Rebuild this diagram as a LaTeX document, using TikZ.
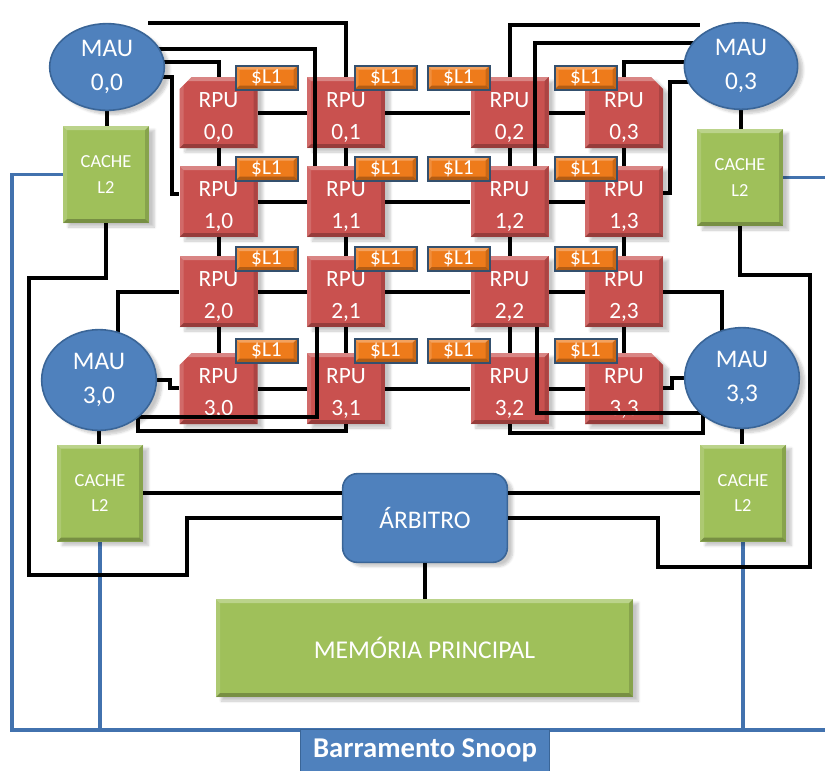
\documentclass[tikz,border=0pt]{standalone}
\usepackage{fontspec}
\setmainfont{Carlito}
\usetikzlibrary{shapes.geometric,shapes.misc,calc,shadows.blur}

\definecolor{rpured}{HTML}{C9514F}
\definecolor{maublue}{HTML}{4F81BD}
\definecolor{mauedge}{HTML}{3A6597}
\definecolor{cachegreen}{HTML}{9FC05A}
\definecolor{l1orange}{HTML}{EE7B1B}
\definecolor{l1edge}{HTML}{34506E}
\definecolor{busblue}{HTML}{4272AE}

\pgfdeclarelayer{back}
\pgfdeclarelayer{wires}
\pgfdeclarelayer{top}
\pgfsetlayers{back,main,wires,top}

\tikzset{
  x=0.75pt, y=-0.75pt,
  bevel/.style={path picture={
    \coordinate (bsw) at (path picture bounding box.south west);
    \coordinate (bne) at (path picture bounding box.north east);
    \coordinate (bnw) at (path picture bounding box.north west);
    \coordinate (bse) at (path picture bounding box.south east);
    \fill[white,opacity=.30] (bnw) -- (bne) -- ($(bne)+(-3pt,-3pt)$) -- ($(bnw)+(3pt,-3pt)$) -- cycle;
    \fill[white,opacity=.15] (bnw) -- ($(bnw)+(3pt,-3pt)$) -- ($(bsw)+(3pt,3pt)$) -- (bsw) -- cycle;
    \fill[black,opacity=.25] (bsw) -- ($(bsw)+(3pt,3pt)$) -- ($(bse)+(-3pt,3pt)$) -- (bse) -- cycle;
    \fill[black,opacity=.15] (bse) -- ($(bse)+(-3pt,3pt)$) -- ($(bne)+(-3pt,-3pt)$) -- (bne) -- cycle;
  }},
  soft/.style={blur shadow={shadow xshift=4pt, shadow yshift=-3pt, shadow opacity=22, shadow blur steps=6}},
  rpu/.style={rectangle, fill=rpured, minimum width=58.5pt, minimum height=53.25pt,
    inner sep=0pt, text=white, align=center, font=\fontsize{17.5}{24}\selectfont,
    text height=40pt, text depth=0pt, soft, bevel},
  cutnw/.style={chamfered rectangle, chamfered rectangle corners=north west,
    chamfered rectangle xsep=4.5pt, chamfered rectangle ysep=4.5pt},
  cutne/.style={chamfered rectangle, chamfered rectangle corners=north east,
    chamfered rectangle xsep=4.5pt, chamfered rectangle ysep=4.5pt},
  lone/.style={rectangle, fill=l1orange, draw=l1edge, line width=1.5pt, minimum width=46.5pt,
    minimum height=18pt, inner sep=0pt, text=white, font=\fontsize{16}{16}\selectfont, bevel},
  mau/.style={ellipse, fill=maublue, draw=mauedge, line width=1.2pt, inner sep=0pt,
    text=white, align=center, font=\fontsize{19}{25}\selectfont, soft},
  cache/.style={rectangle, fill=cachegreen, minimum width=64.5pt, minimum height=72.75pt,
    inner sep=0pt, text=white, align=center, font=\fontsize{13.8}{19}\selectfont, soft, bevel},
  arbiter/.style={rectangle, rounded corners=11pt, fill=maublue, draw=mauedge, line width=1.2pt,
    minimum width=123.5pt, minimum height=66.5pt, text=white, font=\fontsize{19}{20}\selectfont, soft},
  memory/.style={rectangle, fill=cachegreen, minimum width=312.75pt, minimum height=73.5pt,
    text=white, font=\fontsize{19.2}{20}\selectfont, soft, bevel},
  buslabel/.style={rectangle, fill=maublue, draw=mauedge, line width=1pt, minimum width=186.5pt,
    minimum height=31.5pt, inner sep=0pt, text=white, font=\fontsize{21.5}{22}\selectfont\bfseries},
  wire/.style={draw=black, line width=3pt},
  bus/.style={draw=busblue, line width=2.4pt},
}

\begin{document}
\begin{tikzpicture}
\useasboundingbox (0,0) rectangle (825,771);

% processing units, row by row
\node[rpu,cutnw] (r00) at (218.5,112.5) {RPU\\0,0};
\node[rpu] (r01) at (346,112.5) {RPU\\0,1};
\node[rpu] (r02) at (509.5,112.5) {RPU\\0,2};
\node[rpu,cutne] (r03) at (624,112.5) {RPU\\0,3};
\node[rpu] (r10) at (218.5,201.5) {RPU\\1,0};
\node[rpu] (r11) at (346,201.5) {RPU\\1,1};
\node[rpu] (r12) at (509.5,201.5) {RPU\\1,2};
\node[rpu] (r13) at (624,201.5) {RPU\\1,3};
\node[rpu] (r20) at (218.5,291.5) {RPU\\2,0};
\node[rpu] (r21) at (346,291.5) {RPU\\2,1};
\node[rpu] (r22) at (509.5,291.5) {RPU\\2,2};
\node[rpu] (r23) at (624,291.5) {RPU\\2,3};
\node[rpu,cutnw] (r30) at (218.5,388.5) {RPU\\3,0};
\node[rpu] (r31) at (346,388.5) {RPU\\3,1};
\node[rpu] (r32) at (509.5,388.5) {RPU\\3,2};
\node[rpu,cutne] (r33) at (624,388.5) {RPU\\3,3};

% L2 caches, arbiter and main memory
\node[cache] (c00) at (106,174.5) {CACHE\\L2};
\node[cache] (c03) at (740,177.5) {CACHE\\L2};
\node[cache] (c30) at (100,493) {CACHE\\L2};
\node[cache] (c33) at (743,493) {CACHE\\L2};
\node[arbiter] (arb) at (425,518) {ÁRBITRO};
\node[memory] (mem) at (424.5,648) {MEMÓRIA PRINCIPAL};

\begin{pgfonlayer}{top}
  \node[mau, minimum width=86pt, minimum height=65pt] (m00) at (107,67) {MAU\\0,0};
  \node[mau, minimum width=85pt, minimum height=65pt] (m03) at (741,66) {MAU\\0,3};
  \node[mau, minimum width=86pt, minimum height=75.5pt] (m30) at (99,380) {MAU\\3,0};
  \node[mau, minimum width=86pt, minimum height=75.5pt] (m33) at (742,378) {MAU\\3,3};
  % L1 caches on each unit
  \foreach \r/\y in {0/77.5,1/168.5,2/259,3/350.5}{
    \node[lone] (l\r0) at (266.5,\y) {\$L1};
    \node[lone] (l\r1) at (385.5,\y) {\$L1};
    \node[lone] (l\r2) at (458.5,\y) {\$L1};
    \node[lone] (l\r3) at (585.5,\y) {\$L1};
  }
  \node[buslabel, anchor=north] (snoop) at (425,729) {Barramento Snoop};
\end{pgfonlayer}

% snoop bus
\coordinate (busL) at (12,730);
\coordinate (busR) at (825,730);
\begin{pgfonlayer}{back}
  \draw[bus] (c00.west) -| (busL) -- (busR);
  \draw[bus] (c03.east) -- (c03.east -| busR);
  \draw[bus] (c30.south) -- (c30.south |- busL);
  \draw[bus] (c33.south) -- (c33.south |- busL);
\end{pgfonlayer}

\begin{pgfonlayer}{wires}
  % mesh between neighbouring units
  \foreach \r in {0,1,2,3}{
    \draw[wire] (r\r0.east) -- (r\r1.west);
    \draw[wire] (r\r1.east) -- (r\r2.west);
    \draw[wire] (r\r2.east) -- (r\r3.west);
  }
  \foreach \c in {0,1,2,3}{
    \draw[wire] (r0\c.south) -- (r1\c.north);
    \draw[wire] (r1\c.south) -- (r2\c.north);
    \draw[wire] (r2\c.south) -- (r3\c.north);
  }
  % MAU 0,0
  \draw[wire] (m00.north east |- 0,23) -| (r01.north);
  \draw[wire] (m00.center |- 0,49) -- (315,49) -- (r11.north -| 315,0);
  \draw[wire] (m00.center |- 0,62) -| (r00.north);
  \draw[wire] (m00.center |- 0,77) -| (172,194) -- (r10.west |- 0,194);
  % MAU 0,3
  \draw[wire] (r02.north) |- (m03.north west |- 0,25);
  \draw[wire] (r12.north -| 535,0) |- (m03.center |- 0,43);
  \draw[wire] (r03.north) |- (m03.center |- 0,62);
  \draw[wire] (m03.center |- 0,82) -| (670,193) -- (r13.east |- 0,193);
  % MAU 3,0
  \draw[wire] (m30.center -| 118,0) |- (r20.west);
  \draw[wire] (m30.center) -| (170,388) -- (r30.west |- 0,388);
  \draw[wire] (m30.center |- 0,417) -- (317,417) -- (r21.south -| 317,0);
  \draw[wire] (m30.center -| 138,0) |- (r31.south |- 0,431) -- (r31.south);
  % MAU 3,3
  \draw[wire] (m33.center -| 722,0) |- (r23.east);
  \draw[wire] (m33.center) -| (672,388) -- (r33.east |- 0,388);
  \draw[wire] (r22.south -| 537,0) |- (m33.center |- 0,413);
  \draw[wire] (r32.south) |- (703,433) -- (m33.center -| 703,0);
  % MAUs to their L2 caches
  \draw[wire] (m00.south) -- (m00.south |- c00.north);
  \draw[wire] (m03.south) -- (m03.south |- c03.north);
  \draw[wire] (m30.south) -- (m30.south |- c30.north);
  \draw[wire] (m33.south) -- (m33.south |- c33.north);
  % L2 caches to the arbiter
  \draw[wire] (c00.south) |- (29,278) |- (187,575) |- (arb.west);
  \draw[wire] (c03.south) |- (810,275) |- (658,567) |- (arb.east);
  \draw[wire] (c30.east) -- (c30.east -| arb.west);
  \draw[wire] (c33.west) -- (c33.west -| arb.east);
  \draw[wire] (arb.south) -- (arb.south |- mem.north);
\end{pgfonlayer}
\end{tikzpicture}
\end{document}
